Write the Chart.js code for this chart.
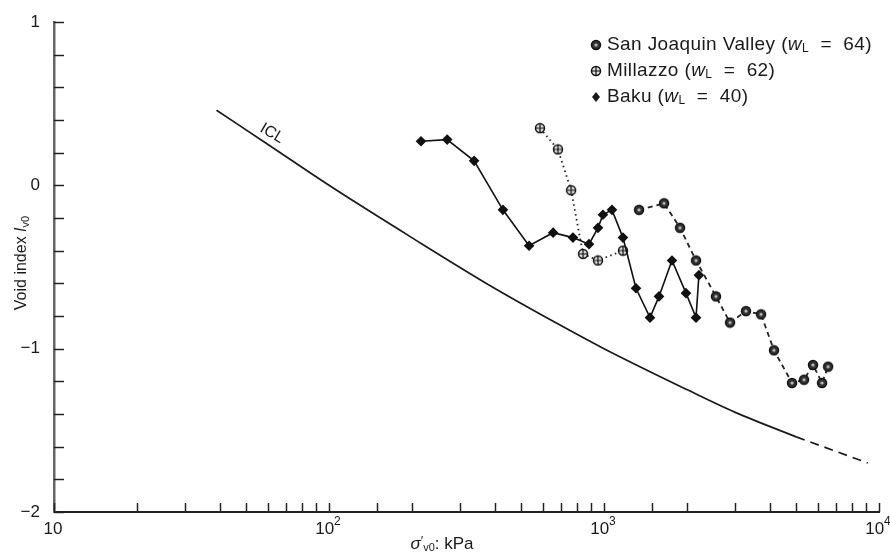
<!DOCTYPE html>
<html>
<head>
<meta charset="utf-8">
<script src="https://cdn.jsdelivr.net/npm/chart.js@4.4.1/dist/chart.umd.min.js"></script>
<style>
  html, body { margin: 0; padding: 0; background: #fff; }
  #wrap { width: 890px; height: 553px; }
</style>
</head>
<body>
<div id="wrap"><canvas id="voidChart" width="890" height="553"></canvas></div>
<script>
// values (stress in kPa, void index Iv0)
const bakuStress = [216, 269, 337, 429, 534, 653, 771, 882, 951, 991, 1069, 1172, 1307, 1470, 1585, 1767, 1987, 2161, 2214];
const bakuIv = [0.27, 0.28, 0.15, -0.15, -0.37, -0.29, -0.32, -0.36, -0.26, -0.18, -0.15, -0.32, -0.63, -0.81, -0.68, -0.46, -0.66, -0.81, -0.55];

const millazzoStress = [585, 680, 759, 839, 951, 1172];
const millazzoIv = [0.35, 0.22, -0.03, -0.42, -0.46, -0.40];

const sanJoaquinStress = [1341, 1653, 1890, 2161, 2553, 2872, 3283, 3724, 4150, 4827, 5337, 5754, 6207, 6528];
const sanJoaquinIv = [-0.15, -0.11, -0.26, -0.46, -0.68, -0.84, -0.77, -0.79, -1.01, -1.21, -1.19, -1.10, -1.21, -1.11];

// intrinsic compression line, solid part and dashed extension
const iclStress = [39, 60, 100, 200, 400, 700, 1000, 2000, 3000, 5000];
const iclIv = [0.46, 0.25, 0.0, -0.32, -0.63, -0.86, -1.0, -1.25, -1.39, -1.54];
const iclExtStress = [5000, 9100];
const iclExtIv = [-1.54, -1.70];

// x labels: base and exponent (drawn with a raised exponent)
const xTickValues = [10, 100, 1000, 10000];
const xTickExp = ['', '2', '3', '4'];
const yTickLabels = { 1: '1', 0: '0', '-1': '\u22121', '-2': '\u22122' };

const FONT = '"Liberation Sans", Arial, sans-serif';

function pts(xs, ys) {
    return xs.map((x, i) => ({ x: x, y: ys[i] }));
}

// small point symbols like the printed ones
function makeMarker(kind) {
    const c = document.createElement('canvas');
    c.width = 12; c.height = 12;
    const g = c.getContext('2d');
    g.beginPath();
    g.arc(6, 6, 4.5, 0, Math.PI * 2);
    g.fillStyle = kind === 'sj' ? '#333' : '#ddd';
    g.fill();
    g.lineWidth = 1.5;
    g.strokeStyle = '#111';
    g.stroke();
    if (kind === 'sj') {
        g.beginPath();
        g.arc(6, 6, 1.6, 0, Math.PI * 2);
        g.fillStyle = '#bbb';
        g.fill();
    } else {
        g.lineWidth = 1.2;
        g.beginPath();
        g.moveTo(2, 6); g.lineTo(10, 6);
        g.moveTo(6, 2); g.lineTo(6, 10);
        g.stroke();
    }
    return c;
}
const sjMarker = makeMarker('sj');
const milMarker = makeMarker('mil');

// draws a list of text pieces side by side: [text, font, dy]
function richText(ctx, parts, x, y) {
    let cx = x;
    parts.forEach(p => {
        ctx.font = p[1];
        ctx.fillText(p[0], cx, y + (p[2] || 0));
        cx += ctx.measureText(p[0]).width;
    });
    return cx - x;
}
function richWidth(ctx, parts) {
    let w = 0;
    parts.forEach(p => { ctx.font = p[1]; w += ctx.measureText(p[0]).width; });
    return w;
}

const decorations = {
    id: 'decorations',
    afterDraw(chart) {
        const ctx = chart.ctx;
        const xs = chart.scales.x;
        const ys = chart.scales.y;
        const area = chart.chartArea;
        ctx.save();

        // inward tick marks
        ctx.strokeStyle = '#222';
        ctx.lineWidth = 1.5;
        ys.ticks.forEach(t => {
            const py = Math.round(ys.getPixelForValue(t.value)) + 0.5;
            ctx.beginPath();
            ctx.moveTo(area.left, py);
            ctx.lineTo(area.left + 10, py);
            ctx.stroke();
        });
        xs.ticks.forEach(t => {
            const px = Math.round(xs.getPixelForValue(t.value)) + 0.5;
            ctx.beginPath();
            ctx.moveTo(px, area.bottom);
            ctx.lineTo(px, area.bottom - 9);
            ctx.stroke();
        });

        ctx.fillStyle = '#1a1a1a';
        ctx.textBaseline = 'middle';

        // x tick labels with superscript exponents
        xTickValues.forEach((v, i) => {
            const parts = [['10', '17px ' + FONT]];
            if (xTickExp[i]) parts.push([xTickExp[i], '12px ' + FONT, -7]);
            richText(ctx, parts, xs.getPixelForValue(v) - richWidth(ctx, parts) / 2 - 1, area.bottom + 17);
        });

        // y axis title
        ctx.save();
        ctx.translate(22, 263);
        ctx.rotate(-Math.PI / 2);
        const yParts = [['Void index ', '16px ' + FONT], ['I', 'italic 16px ' + FONT], ['v0', '11px ' + FONT, 4]];
        richText(ctx, yParts, -richWidth(ctx, yParts) / 2, 0);
        ctx.restore();

        // x axis title
        const xParts = [['\u03c3', 'italic 17px ' + FONT], ['\u2032', '13px ' + FONT, -3], ['v0', '11px ' + FONT, 4], [': kPa', '17px ' + FONT]];
        richText(ctx, xParts, 442 - richWidth(ctx, xParts) / 2, 544);

        // ICL label along the line
        ctx.save();
        ctx.translate(xs.getPixelForValue(60) + 4, ys.getPixelForValue(0.25) - 11);
        ctx.rotate(Math.atan2(225, 383));
        ctx.font = '16px ' + FONT;
        ctx.textAlign = 'center';
        ctx.fillText('ICL', 0, 0);
        ctx.restore();

        // legend
        const rows = [
            [sjMarker, 'San Joaquin Valley (', '64)'],
            [milMarker, 'Millazzo (', '62)'],
            ['diamond', 'Baku (', '40)']
        ];
        ctx.letterSpacing = '0.4px';
        rows.forEach((r, i) => {
            const ry = 45 + i * 26;
            if (r[0] === 'diamond') {
                ctx.beginPath();
                ctx.moveTo(596, ry - 5); ctx.lineTo(600, ry);
                ctx.lineTo(596, ry + 5); ctx.lineTo(592, ry);
                ctx.closePath();
                ctx.fill();
            } else {
                ctx.drawImage(r[0], 590, ry - 6);
            }
            richText(ctx, [
                [r[1], '19px ' + FONT],
                ['w', 'italic 19px ' + FONT],
                ['L', '12px ' + FONT, 4],
                ['  =  ' + r[2], '19px ' + FONT]
            ], 607, ry);
        });
        ctx.letterSpacing = '0px';

        ctx.restore();
    }
};

const ctx = document.getElementById('voidChart');

new Chart(ctx, {
    type: 'line',
    data: {
        datasets: [
            {
                label: 'ICL',
                data: pts(iclStress, iclIv),
                borderColor: '#1a1a1a',
                borderWidth: 1.7,
                pointRadius: 0,
                tension: 0.4,
                cubicInterpolationMode: 'monotone'
            },
            {
                label: 'ICL extension',
                data: pts(iclExtStress, iclExtIv),
                borderColor: '#1a1a1a',
                borderWidth: 1.7,
                borderDash: [9, 6],
                pointRadius: 0
            },
            {
                label: 'Baku',
                data: pts(bakuStress, bakuIv),
                borderColor: '#111',
                borderWidth: 1.6,
                pointStyle: 'rectRot',
                pointRadius: 4.2,
                pointBackgroundColor: '#111',
                pointBorderColor: '#111',
                tension: 0
            },
            {
                label: 'Millazzo',
                data: pts(millazzoStress, millazzoIv),
                borderColor: '#222',
                borderWidth: 1.8,
                borderDash: [1.5, 3.5],
                pointStyle: milMarker,
                tension: 0
            },
            {
                label: 'San Joaquin Valley',
                data: pts(sanJoaquinStress, sanJoaquinIv),
                borderColor: '#222',
                borderWidth: 1.8,
                borderDash: [5, 4],
                pointStyle: sjMarker,
                tension: 0
            }
        ]
    },
    options: {
        responsive: false,
        animation: false,
        layout: { padding: { top: 22, right: 11, left: 0, bottom: 0 } },
        plugins: {
            legend: { display: false },
            tooltip: { enabled: false }
        },
        scales: {
            x: {
                type: 'logarithmic',
                min: 10,
                max: 10000,
                grid: { display: false },
                border: { display: true, color: '#222', width: 2 },
                afterFit: function(scale) { scale.height = 41; },
                ticks: {
                    display: false
                }
            },
            y: {
                type: 'linear',
                min: -2,
                max: 1,
                grid: { display: false },
                border: { display: true, color: '#666', width: 2.5 },
                afterFit: function(scale) { scale.width = 54; },
                ticks: {
                    stepSize: 0.2,
                    color: '#1a1a1a',
                    font: { family: FONT, size: 17 },
                    padding: 6,
                    autoSkip: false,
                    callback: function(value) {
                        const r = Math.round(value * 10) / 10;
                        return Number.isInteger(r) ? yTickLabels[r] : '';
                    }
                }
            }
        }
    },
    plugins: [decorations]
});
</script>
</body>
</html>
